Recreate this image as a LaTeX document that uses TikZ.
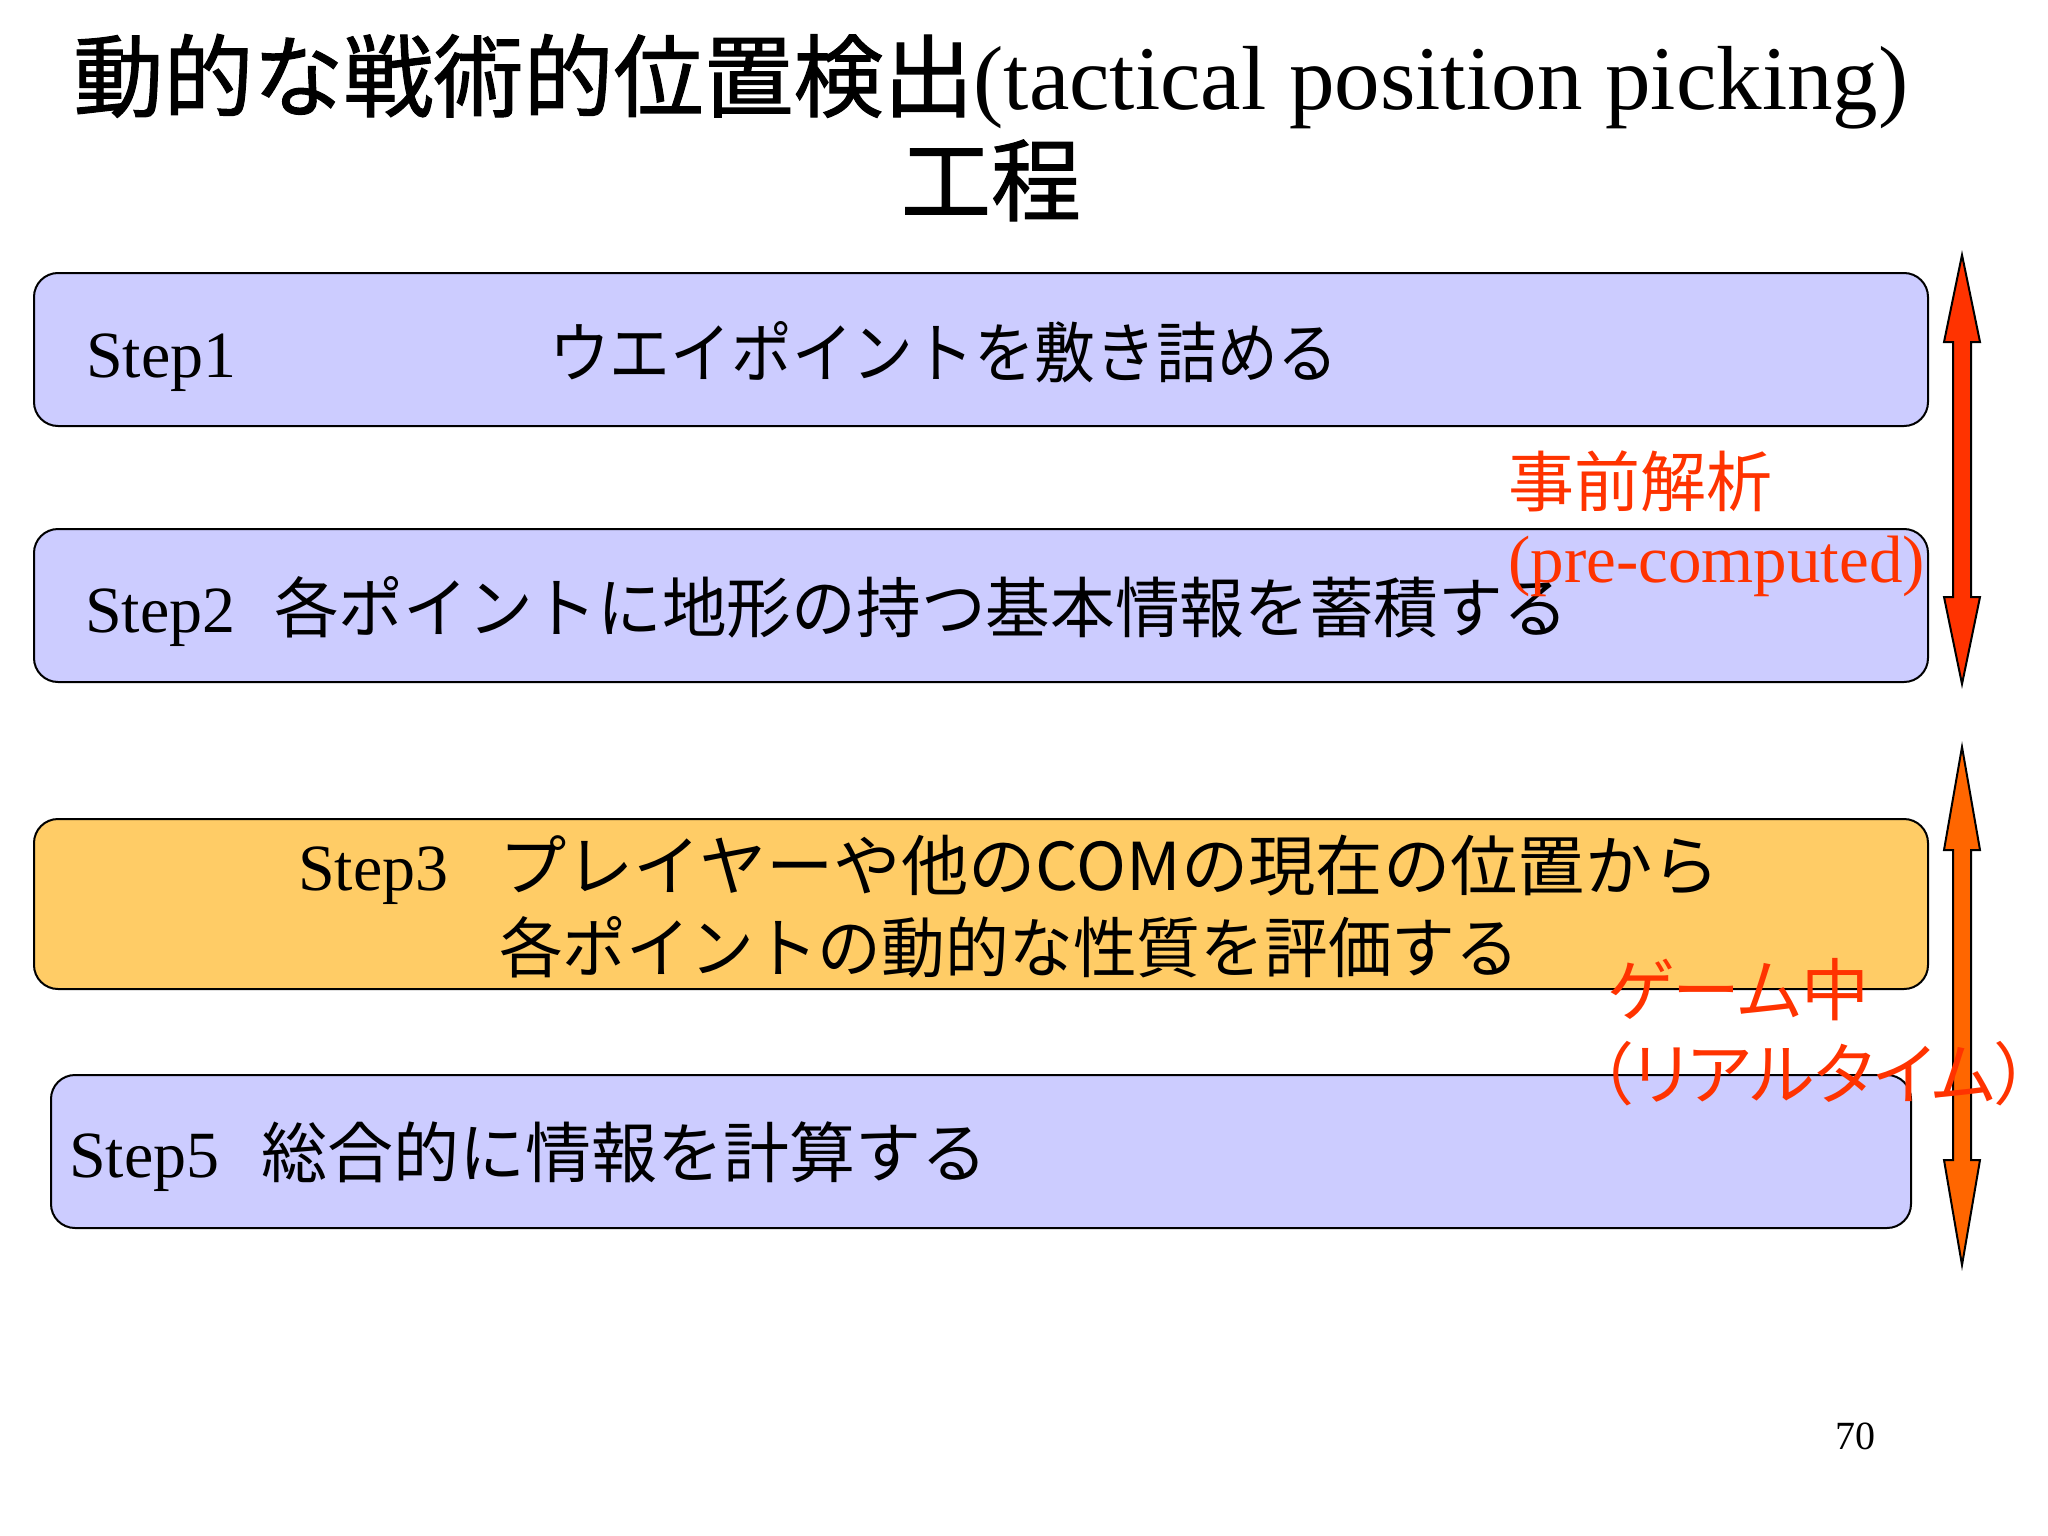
\documentclass[tikz,border=0pt]{standalone}
\usepackage{fontspec}
\setmainfont{Liberation Serif}
\newfontfamily\jp{Noto Sans CJK JP}
\newfontfamily\jpt[FakeBold=1.2]{Noto Sans CJK JP}
\newfontfamily\jpp[RawFeature=+palt]{Noto Sans CJK JP}
\definecolor{boxblue}{HTML}{CCCCFF}
\definecolor{boxorange}{HTML}{FFCC66}
\definecolor{lblred}{HTML}{FF3300}
\definecolor{arrred}{HTML}{FF3300}
\definecolor{arrorange}{HTML}{FF6600}
\tikzset{
  stepbox/.style={draw=black, line width=2pt, rounded corners=24pt, inner sep=0pt},
  txt/.style={anchor=base west, inner sep=0pt, font=\fontsize{66}{80}\selectfont},
  jtxt/.style={anchor=base west, inner sep=0pt, font=\fontsize{66}{80}\selectfont\jp},
  lbl/.style={anchor=base west, inner sep=0pt, text=lblred, font=\fontsize{66}{80}\selectfont},
  bigarrow/.style={draw=black, line width=2pt, line join=miter},
}
\begin{document}
\begin{tikzpicture}[x=1pt,y=-1pt]
\useasboundingbox[fill=white] (0,0) rectangle (2048,1536);
% title
\node[anchor=base, inner sep=0pt, font=\fontsize{91}{100}\selectfont] (title1) at (991,110) {{\fontsize{90}{100}\selectfont\jpt 動的な戦術的位置検出}(tactical position picking)};
\node[anchor=base, inner sep=0pt, font=\fontsize{90}{100}\selectfont\jpt] (title2) at (991,214) {工程};
% boxes
\node[stepbox, fill=boxblue, minimum width=1894pt, minimum height=153pt] (box1) at (981,349.5) {};
\node[stepbox, fill=boxblue, minimum width=1894pt, minimum height=153pt] (box2) at (981,605.5) {};
\node[stepbox, fill=boxorange, minimum width=1894pt, minimum height=170pt] (box3) at (981,904) {};
\node[stepbox, fill=boxblue, minimum width=1860pt, minimum height=153pt] (box5) at (981,1151.5) {};
% box texts
\node[txt] (s1) at (86,377) {Step1};
\node[jtxt] (t1) at (549,377) {\scalebox{0.92}[1]{ウエイポイントを敷き詰める}};
\node[txt] (s2) at (85,632) {Step2};
\node[jtxt] (t2) at (274,632) {\scalebox{0.98}[1]{各ポイントに地形の持つ基本情報を蓄積する}};
\node[txt] (s3) at (298,890) {Step3};
\node[jtxt] (t3a) at (499,890) {\scalebox{1.02}[1]{プレイヤーや他のCOMの現在の位置から}};
\node[jtxt] (t3b) at (499,972) {\scalebox{0.966}[1]{各ポイントの動的な性質を評価する}};
\node[txt] (s5) at (69,1177) {Step5};
\node[jtxt] (t5) at (261,1177) {総合的に情報を計算する};
% arrows
\draw[bigarrow, fill=arrred] (1962,255) -- (1980,342) -- (1971,342) -- (1971,597) -- (1980,597) -- (1962,684) -- (1944,597) -- (1953,597) -- (1953,342) -- (1944,342) -- cycle;
\draw[bigarrow, fill=arrorange] (1962,747) -- (1980,850) -- (1971,850) -- (1971,1160) -- (1980,1160) -- (1962,1265) -- (1944,1160) -- (1953,1160) -- (1953,850) -- (1944,850) -- cycle;
% red labels (drawn over the arrows)
\node[lbl, font=\fontsize{66}{80}\selectfont\jp] (pre1) at (1508,506) {事前解析};
\node[lbl, font=\fontsize{67}{80}\selectfont] (pre2) at (1508,582) {(pre-computed)};
\node[lbl, font=\fontsize{68}{80}\selectfont\jpp] (rt1) at (1607,1015) {ゲーム中};
\node[lbl, font=\fontsize{68}{80}\selectfont\jpp] (rt2) at (1598,1099) {（リアルタイム）};
% page number
\node[anchor=base, inner sep=0pt, font=\fontsize{40}{48}\selectfont] (pg) at (1855,1449) {70};
\end{tikzpicture}
\end{document}
